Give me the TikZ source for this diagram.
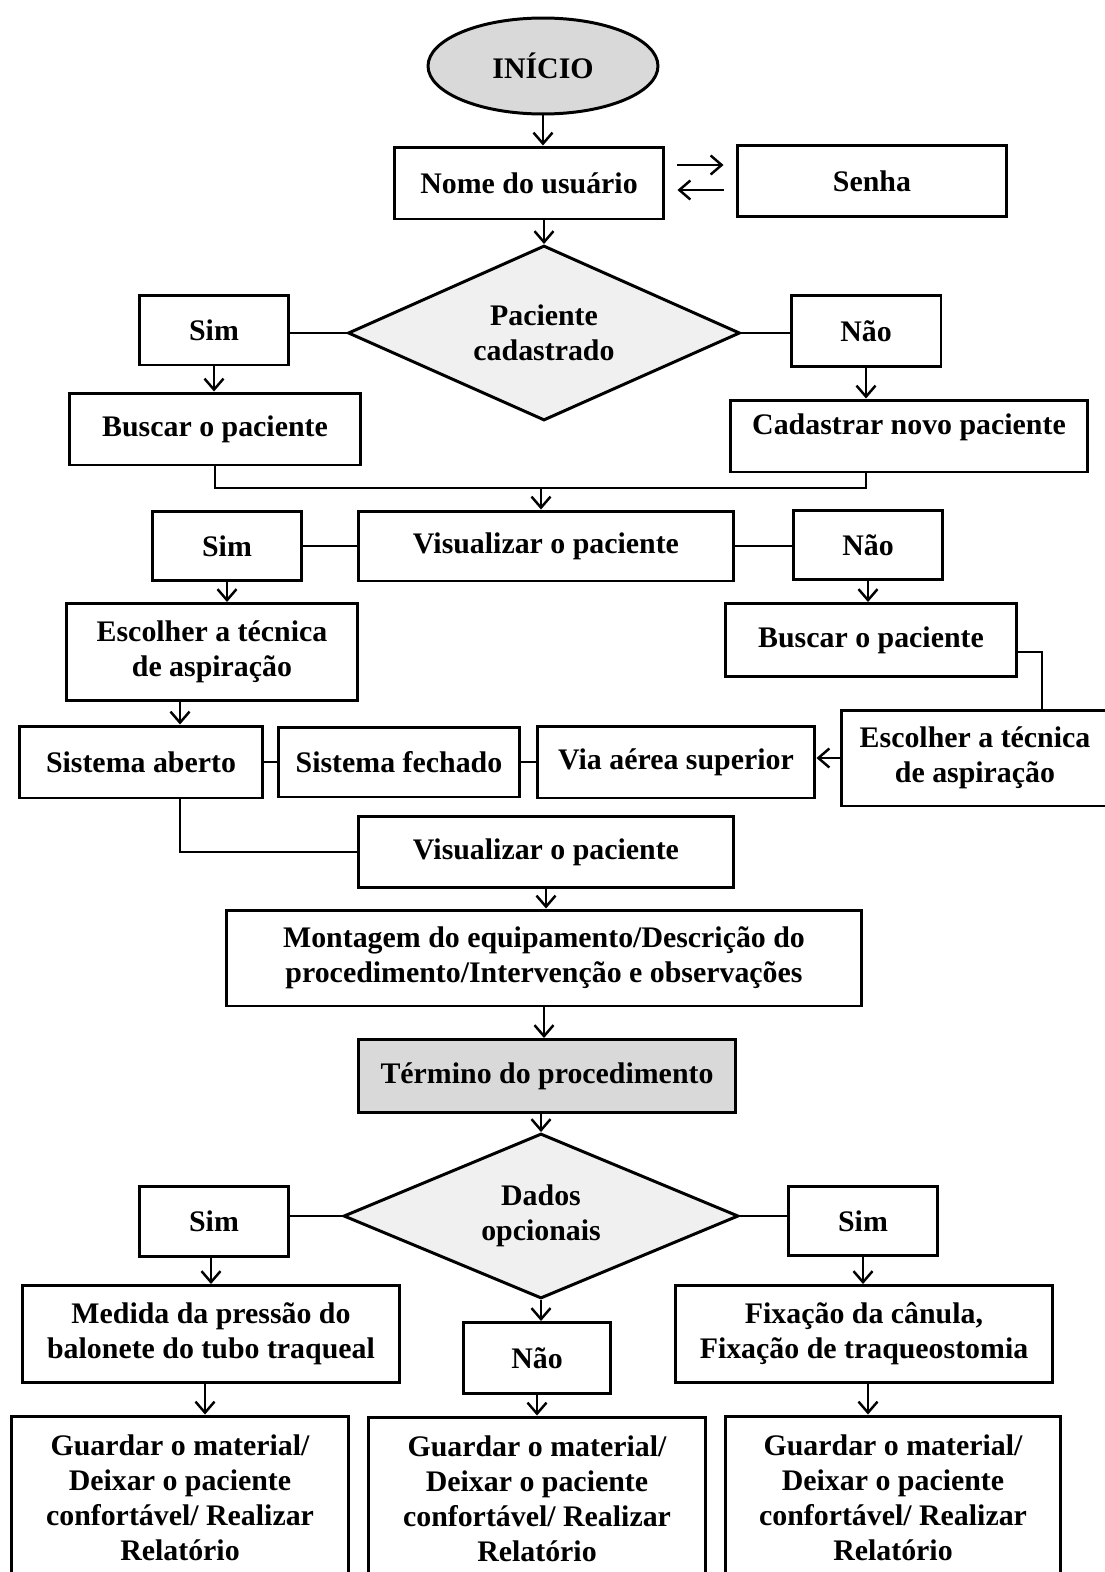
\documentclass[tikz,border=0pt]{standalone}
\usepackage{fontspec}
\setmainfont{Liberation Serif}
\usetikzlibrary{shapes.geometric,arrows.meta}

\begin{document}
\begin{tikzpicture}[x=0.02cm,y=-0.02cm,
    caixa/.style={draw,line width=1.7pt,inner sep=0pt,align=center,
      font=\bfseries\fontsize{17}{20}\selectfont},
    decisao/.style={caixa,diamond,aspect=2.3,fill=gray!12},
    seta/.style={line width=1.4pt,-{Straight Barb[length=2.2mm,width=3.8mm]}},
    linha/.style={line width=1.4pt}]
    \clip (0,0) rectangle (1105,1572);
    \node[caixa,ellipse,fill=gray!30,minimum width=4.6cm,minimum height=1.92cm] (inicio) at (543,66) {INÍCIO};
    \node[caixa,minimum width=5.4cm,minimum height=1.44cm] (nome) at (529,183) {Nome do usuário};
    \node[caixa,minimum width=5.4cm,minimum height=1.42cm] (senha) at (872,181) {Senha};
    \node[decisao,minimum width=7.84cm,minimum height=3.5cm] (pac) at (544,333) {Paciente\\cadastrado};
    \node[caixa,minimum width=3cm,minimum height=1.4cm] (sim1) at (214,330) {Sim};
    \node[caixa,minimum width=3cm,minimum height=1.42cm] (nao1) at (866,331) {Não};
    \node[caixa,minimum width=5.84cm,minimum height=1.44cm] (busca1) at (215,429) {Buscar o paciente};
    \node[caixa,minimum width=7.14cm,minimum height=1.44cm,text height=12pt,text depth=14pt] (cadastra) at (909,436) {Cadastrar novo paciente};
    \node[caixa,minimum width=7.5cm,minimum height=1.4cm] (visu1) at (546,546) {Visualizar o paciente};
    \node[caixa,minimum width=2.98cm,minimum height=1.38cm] (sim2) at (227,546) {Sim};
    \node[caixa,minimum width=2.98cm,minimum height=1.38cm] (nao2) at (868,545) {Não};
    \node[caixa,minimum width=5.82cm,minimum height=1.94cm] (escolhe1) at (212,652) {Escolher a técnica\\de aspiração};
    \node[caixa,minimum width=5.84cm,minimum height=1.46cm] (busca2) at (871,640) {Buscar o paciente};
    \node[caixa,minimum width=5.36cm,minimum height=1.92cm] (escolhe2) at (975,758) {Escolher a técnica\\de aspiração};
    \node[caixa,minimum width=5.56cm,minimum height=1.44cm] (via) at (676,762) {Via aérea superior};
    \node[caixa,minimum width=4.82cm,minimum height=1.4cm] (fecha) at (399,762) {Sistema fechado};
    \node[caixa,minimum width=4.86cm,minimum height=1.44cm] (aberto) at (141,762) {Sistema aberto};
    \node[caixa,minimum width=7.5cm,minimum height=1.42cm] (visu2) at (546,852) {Visualizar o paciente};
    \node[caixa,minimum width=12.7cm,minimum height=1.92cm] (montagem) at (544,958) {Montagem do equipamento/Descrição do\\procedimento/Intervenção e observações};
    \node[caixa,fill=gray!30,minimum width=7.54cm,minimum height=1.46cm] (termino) at (547,1076) {Término do procedimento};
    \node[decisao,minimum width=7.9cm,minimum height=3.3cm] (dados) at (541,1216) {Dados\\opcionais};
    \node[caixa,minimum width=3cm,minimum height=1.4cm] (sim3) at (214,1221) {Sim};
    \node[caixa,minimum width=2.98cm,minimum height=1.38cm] (sim4) at (863,1221) {Sim};
    \node[caixa,minimum width=7.56cm,minimum height=1.94cm] (medida) at (211,1334) {Medida da pressão do\\balonete do tubo traqueal};
    \node[caixa,minimum width=2.96cm,minimum height=1.42cm] (nao3) at (537,1358) {Não};
    \node[caixa,minimum width=7.56cm,minimum height=1.94cm] (fixa) at (864,1334) {Fixação da cânula,\\Fixação de traqueostomia};
    \node[caixa,minimum width=6.76cm,minimum height=3.28cm] (guarda1) at (180,1498) {Guardar o material/\\Deixar o paciente\\confortável/ Realizar\\Relatório};
    \node[caixa,minimum width=6.74cm,minimum height=3.28cm] (guarda2) at (537,1499) {Guardar o material/\\Deixar o paciente\\confortável/ Realizar\\Relatório};
    \node[caixa,minimum width=6.7cm,minimum height=3.28cm] (guarda3) at (893,1498) {Guardar o material/\\Deixar o paciente\\confortável/ Realizar\\Relatório};

    \draw[seta] (inicio.south) -- (inicio.south |- nome.north);
    \draw[seta] ([xshift=0.24cm,yshift=0.36cm]nome.east) -- ([xshift=-0.24cm,yshift=0.36cm]nome.east -| senha.west);
    \draw[seta] ([xshift=-0.24cm,yshift=-0.14cm]nome.east -| senha.west) -- ([xshift=0.24cm,yshift=-0.14cm]nome.east);
    \draw[seta] (pac.north |- nome.south) -- (pac.north);
    \draw[linha] (pac.west -| sim1.east) -- (pac.west);
    \draw[linha] (pac.east) -- (pac.east -| nao1.west);
    \draw[seta] (sim1.south) -- (sim1.south |- busca1.north);
    \draw[seta] (nao1.south) -- (nao1.south |- cadastra.north);
    \coordinate (junta) at (541,488);
    \draw[linha] (busca1.south) |- (junta) -| (nao1.south |- cadastra.south);
    \draw[seta] (junta) -- (junta |- visu1.north);
    \draw[linha] (visu1.west -| sim2.east) -- (visu1.west);
    \draw[linha] (visu1.east) -- (visu1.east -| nao2.west);
    \draw[seta] (sim2.south) -- (sim2.south |- escolhe1.north);
    \draw[seta] (nao2.south) -- (nao2.south |- busca2.north);
    \draw[linha] ([yshift=-0.24cm]busca2.east) -| ([xshift=1.34cm]escolhe2.north);
    \draw[seta] (escolhe2.west) -- (escolhe2.west -| via.east);
    \draw[linha] (aberto.east) -- (fecha.west);
    \draw[linha] (fecha.east) -- (via.west);
    \draw[seta] ([xshift=-0.64cm]escolhe1.south) -- ([xshift=-0.64cm]escolhe1.south |- aberto.north);
    \draw[linha] ([xshift=0.78cm]aberto.south) |- (visu2.west);
    \draw[seta] (visu2.south) -- (visu2.south |- montagem.north);
    \draw[seta] (montagem.south) -- (montagem.south |- termino.north);
    \draw[seta] (dados.north |- termino.south) -- (dados.north);
    \draw[linha] (dados.west -| sim3.east) -- (dados.west);
    \draw[linha] (dados.east) -- (dados.east -| sim4.west);
    \draw[seta] (medida.north |- sim3.south) -- (medida.north);
    \draw[seta] (dados.south) -- (dados.south |- nao3.north);
    \draw[seta] (sim4.south) -- (sim4.south |- fixa.north);
    \draw[seta] ([xshift=-0.12cm]medida.south) -- ([xshift=-0.12cm]medida.south |- guarda1.north);
    \draw[seta] (nao3.south) -- (nao3.south |- guarda2.north);
    \draw[seta] ([xshift=0.08cm]fixa.south) -- ([xshift=0.08cm]fixa.south |- guarda3.north);
\end{tikzpicture}
\end{document}
